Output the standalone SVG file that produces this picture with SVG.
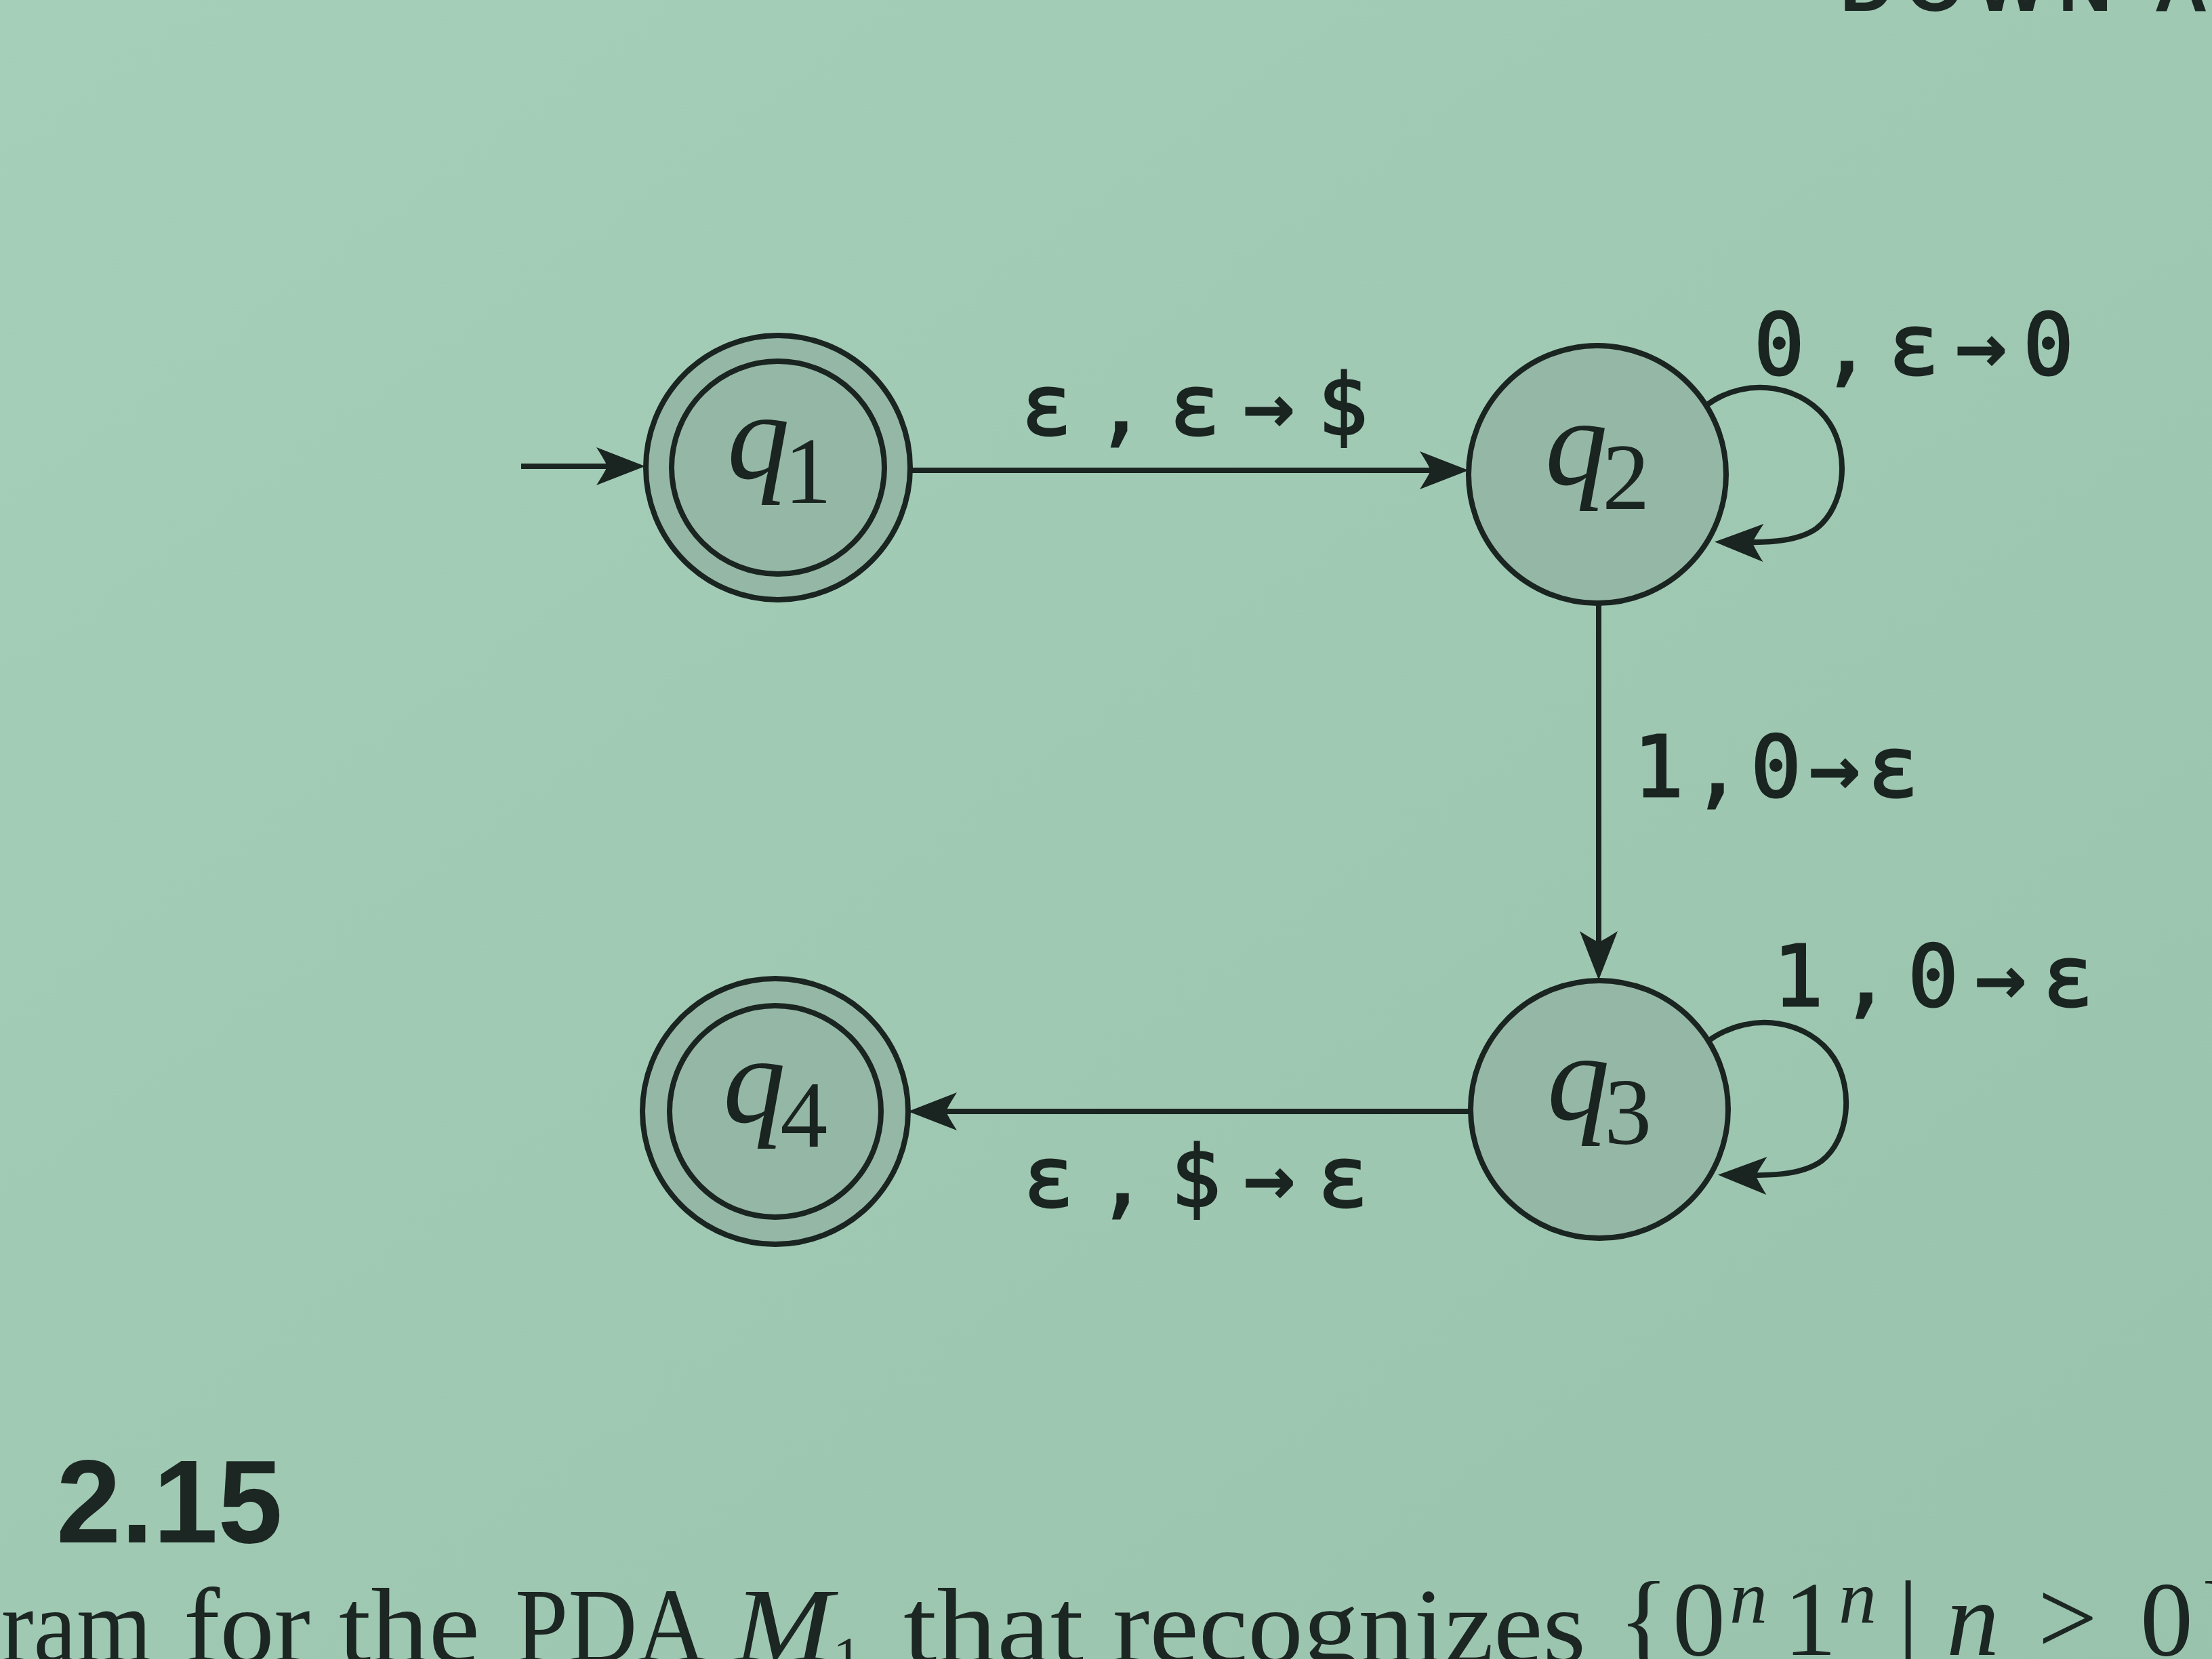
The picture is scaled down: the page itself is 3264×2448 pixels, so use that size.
<svg xmlns="http://www.w3.org/2000/svg" width="3264" height="2448" viewBox="0 0 3264 2448">
<defs>
<linearGradient id="bg" x1="0" y1="0" x2="1" y2="1">
<stop offset="0" stop-color="#a6cfba"/>
<stop offset="1" stop-color="#99c3ad"/>
</linearGradient>
<marker id="arr" markerUnits="userSpaceOnUse" viewBox="-54 -30 76 60" refX="0" refY="0" markerWidth="76" markerHeight="60" orient="auto">
<path d="M20,0 L-52,-28 Q-38,-6 -36,0 Q-38,6 -52,28 Z" fill="#1a2420"/>
</marker>
<style>
.st{fill:#95b8a6;stroke:#1a2420;stroke-width:8}
.ring{fill:none;stroke:#1a2420;stroke-width:8}
.nl{font-family:"Liberation Serif",serif;font-style:italic;font-size:185px;fill:#1a2420}
.sub{font-style:normal;font-size:140px}
.edge{fill:none;stroke:#1a2420;stroke-width:8;marker-end:url(#arr)}
.lbl{font-family:"DejaVu Sans Mono","Liberation Mono",monospace;font-size:124px;fill:#1a2420;stroke:#1a2420;stroke-width:3}
.cap{font-family:"Liberation Serif",serif;font-size:156px;fill:#1c2622}
.mi{font-style:italic}
.sm{font-size:112px}
.ss{font-size:85px}
</style>
</defs>
<rect x="0" y="0" width="3264" height="2448" fill="url(#bg)"/>
<text x="2715" y="16" font-family="Liberation Sans,sans-serif" font-weight="bold" font-size="110" fill="#1c2622" textLength="543" lengthAdjust="spacing">DOWN A</text>
<g id="connectors">
<path id="start" class="edge" d="M769,688 L932,688"/>
<path id="e12" class="edge" d="M1343,694 L2147,694"/>
<path id="e22" class="edge" d="M2518,598 C2580,552 2665,570 2700,625 C2730,672 2722,748 2680,780 C2650,801 2600,801 2550,800"/>
<path id="e23" class="edge" d="M2359,890 L2359,1426"/>
<path id="e33" class="edge" d="M2522,1535 C2586,1490 2670,1506 2706,1561 C2736,1608 2728,1682 2688,1713 C2658,1735 2608,1735 2555,1734"/>
<path id="e34" class="edge" d="M2170,1640 L1360,1640"/>
<text class="lbl" x="1507" y="641" textLength="512" lengthAdjust="spacing">ε,ε→$</text>
<text class="lbl" x="2588" y="552" textLength="472" lengthAdjust="spacing">0,ε→0</text>
<text class="lbl" x="2410" y="1175" textLength="421" lengthAdjust="spacing">1,0→ε</text>
<text class="lbl" x="2616" y="1484" textLength="473" lengthAdjust="spacing">1,0→ε</text>
<text class="lbl" x="1510" y="1780" textLength="509" lengthAdjust="spacing">ε,$→ε</text>
</g>
<g id="q1">
<circle class="st" cx="1148" cy="690" r="195"/>
<circle class="ring" cx="1148" cy="690" r="157"/>
<text class="nl" x="1150" y="706" text-anchor="middle">q<tspan class="sub" dx="-8" dy="36">1</tspan></text>
</g>
<g id="q2">
<circle class="st" cx="2357" cy="700" r="190"/>
<text class="nl" x="2357" y="715" text-anchor="middle">q<tspan class="sub" dx="-8" dy="36">2</tspan></text>
</g>
<g id="q3">
<circle class="st" cx="2360" cy="1637" r="190"/>
<text class="nl" x="2360" y="1652" text-anchor="middle">q<tspan class="sub" dx="-8" dy="36">3</tspan></text>
</g>
<g id="q4">
<circle class="st" cx="1144" cy="1640" r="196"/>
<circle class="ring" cx="1144" cy="1640" r="156"/>
<text class="nl" x="1144" y="1656" text-anchor="middle">q<tspan class="sub" dx="-8" dy="36">4</tspan></text>
</g>
<text x="83" y="2276" font-family="Liberation Sans,sans-serif" font-weight="bold" font-size="175" fill="#1c2622" textLength="334" lengthAdjust="spacingAndGlyphs">2.15</text>
<g id="caption">
<text class="cap" x="2" y="2452" textLength="222" lengthAdjust="spacingAndGlyphs">ram</text>
<text class="cap" x="271" y="2452" textLength="187" lengthAdjust="spacingAndGlyphs">for</text>
<text class="cap" x="500" y="2452" textLength="208" lengthAdjust="spacingAndGlyphs">the</text>
<text class="cap" x="760" y="2452" textLength="282" lengthAdjust="spacingAndGlyphs">PDA</text>
<text class="cap mi" x="1083" y="2452" textLength="146" lengthAdjust="spacingAndGlyphs">M</text>
<text class="cap ss" x="1229" y="2474">1</text>
<text class="cap" x="1333" y="2452" textLength="266" lengthAdjust="spacingAndGlyphs">that</text>
<text class="cap" x="1642" y="2452" textLength="698" lengthAdjust="spacingAndGlyphs">recognizes</text>
<text class="cap" x="2388" y="2442">{</text>
<text class="cap" x="2468" y="2442">0</text>
<text class="cap mi sm" x="2552" y="2395">n</text>
<text class="cap" x="2632" y="2442">1</text>
<text class="cap mi sm" x="2713" y="2395">n</text>
<text class="cap" x="2800" y="2442">|</text>
<text class="cap mi" x="2872" y="2442">n</text>
<text class="cap" x="3007" y="2440">&gt;</text>
<text class="cap" x="3158" y="2442">0</text>
<text class="cap" x="3240" y="2442">}</text>
</g>
</svg>
